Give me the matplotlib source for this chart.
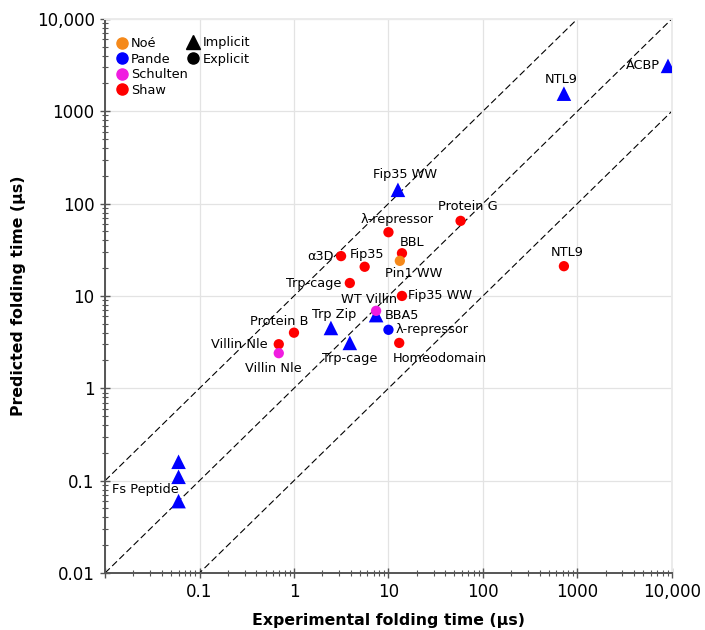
#!/usr/bin/env python3
"""Predicted vs experimental folding times, log-log scatter."""
import matplotlib

matplotlib.use("Agg")
import matplotlib.pyplot as plt
from matplotlib.lines import Line2D
from matplotlib.ticker import FixedLocator, FixedFormatter, LogLocator, NullFormatter


GROUP_COLORS = {
    "Noé": "#F5891A",
    "Pande": "#0000FF",
    "Schulten": "#F01CE0",
    "Shaw": "#FF0000",
}

# name, group, solvent, experimental (us), predicted (us)
names = [
    "", "Fs Peptide", "", "NTL9", "ACBP", "Fip35 WW", "Trp Zip", "Trp-cage", "BBA5",
    "λ-repressor",
    "Protein G", "λ-repressor", "BBL", "α3D", "Fip35", "Trp-cage", "Fip35 WW",
    "NTL9", "Protein B", "Villin Nle", "Homeodomain",
    "Pin1 WW",
    "WT Villin", "Villin Nle",
]
groups = (
    ["Pande"] * 10
    + ["Shaw"] * 11
    + ["Noé"]
    + ["Schulten"] * 2
)
solvent = (
    ["implicit"] * 9 + ["explicit"]
    + ["explicit"] * 11
    + ["explicit"]
    + ["explicit"] * 2
)
experimental = [
    0.06, 0.06, 0.06, 720, 9100, 12.6, 2.46, 3.9, 7.4,
    10.0,
    58, 10.0, 13.9, 3.15, 5.6, 3.9, 13.9,
    720, 1.0, 0.69, 13.0,
    13.2,
    7.4, 0.69,
]
predicted = [
    0.16, 0.11, 0.06, 1550, 3100, 141, 4.5, 3.1, 6.2,
    4.3,
    65, 49, 29, 27, 20.7, 13.8, 10.0,
    21, 4.0, 3.0, 3.1,
    24,
    6.9, 2.4,
]
# label placement: (dx, dy) in points, ha
label_pos = [
    None, (0, -9, "right"), None, (-2, 10, "center"), (-6, 0, "right"),
    (5, 11, "center"), (2, 10, "center"), (0, -11, "center"), (6, 0, "left"),
    (5, 0, "left"),
    (5, 10, "center"), (6, 9, "center"), (7, 8, "center"), (-5, 0, "right"),
    (2, 9, "center"), (-6, 0, "right"), (4, 0, "left"),
    (2, 10, "center"), (-11, 8, "center"), (-8, 0, "right"), (-5, -11, "left"),
    (10, -9, "center"),
    (-5, 8, "center"), (-4, -11, "center"),
]

decades = [0.01, 0.1, 1, 10, 100, 1000, 10000]
y_tick_labels = ["0.01", "0.1", "1", "10", "100", "1000", "10,000"]
x_tick_labels = ["", "0.1", "1", "10", "100", "1000", "10,000"]


def main():
    plt.rcParams.update({"font.family": ["DejaVu Sans"], "font.size": 10})
    fig = plt.figure(figsize=(7.05, 6.3), dpi=100)
    ax = fig.add_axes([0.149, 0.0905, 0.804, 0.8795])
    ax.set_xscale("log")
    ax.set_yscale("log")
    ax.set_xlim(0.01, 10000)
    ax.set_ylim(0.01, 10000)

    # reference diagonals y = 10x, x, x/10
    for factor in (10, 1, 0.1):
        xs = [0.01, 10000]
        ax.plot(xs, [v * factor for v in xs], color="black", linestyle=(0, (6, 3)),
                linewidth=0.8, zorder=1)

    for i in range(len(names)):
        marker = "^" if solvent[i] == "implicit" else "o"
        size = 110 if marker == "^" else 55
        ax.scatter(experimental[i], predicted[i], s=size, marker=marker,
                   color=GROUP_COLORS[groups[i]], edgecolors="none", zorder=3)
        if label_pos[i] is not None and names[i]:
            dx, dy, ha = label_pos[i]
            ax.annotate(names[i], (experimental[i], predicted[i]), xytext=(dx, dy),
                        textcoords="offset points", ha=ha, va="center",
                        fontsize=9.3, zorder=4)

    ax.xaxis.set_major_locator(FixedLocator(decades))
    ax.yaxis.set_major_locator(FixedLocator(decades))
    ax.xaxis.set_major_formatter(FixedFormatter(x_tick_labels))
    ax.yaxis.set_major_formatter(FixedFormatter(y_tick_labels))
    ax.xaxis.set_minor_locator(LogLocator(base=10, subs=range(2, 10), numticks=20))
    ax.yaxis.set_minor_locator(LogLocator(base=10, subs=range(2, 10), numticks=20))
    ax.xaxis.set_minor_formatter(NullFormatter())
    ax.yaxis.set_minor_formatter(NullFormatter())
    ax.tick_params(which="major", direction="inout", length=7, width=1,
                   color="#555555", labelsize=12, pad=4)
    ax.tick_params(which="minor", direction="inout", length=4, width=0.8,
                   color="#555555")
    ax.tick_params(top=False, right=False, which="both")

    ax.grid(True, which="major", color="#E3E3E3", linewidth=0.9, zorder=0)
    ax.set_axisbelow(True)
    for side in ("left", "bottom"):
        ax.spines[side].set_color("#555555")
        ax.spines[side].set_linewidth(1.4)
    for side in ("top", "right"):
        ax.spines[side].set_color("#EBEBEB")
        ax.spines[side].set_linewidth(1.4)

    ax.set_xlabel("Experimental folding time (µs)", fontsize=11.3, fontweight="bold",
                  va="center", ha="center")
    ax.set_ylabel("Predicted folding time (µs)", fontsize=11.3, fontweight="bold",
                  va="center", ha="center")
    ax.xaxis.set_label_coords(0.5, -0.085)
    ax.yaxis.set_label_coords(-0.153, 0.5)

    group_handles = [
        Line2D([], [], marker="o", linestyle="", color=c, markersize=8, label=g)
        for g, c in GROUP_COLORS.items()
    ]
    leg1 = ax.legend(handles=group_handles, loc="upper left", bbox_to_anchor=(-0.007, 0.988),
                     frameon=False, handletextpad=0.0, labelspacing=0.2,
                     handlelength=1.4, fontsize=9.3)
    ax.add_artist(leg1)
    solvent_handles = [
        Line2D([], [], marker="^", linestyle="", color="black", markersize=10,
               label="Implicit"),
        Line2D([], [], marker="o", linestyle="", color="black", markersize=8,
               label="Explicit"),
    ]
    ax.legend(handles=solvent_handles, loc="upper left", bbox_to_anchor=(0.116, 0.99),
              frameon=False, handletextpad=0.0, labelspacing=0.3, handlelength=1.6,
              fontsize=9.3)

    fig.savefig("out.png", dpi=100)
    plt.close(fig)


if __name__ == "__main__":
    main()
